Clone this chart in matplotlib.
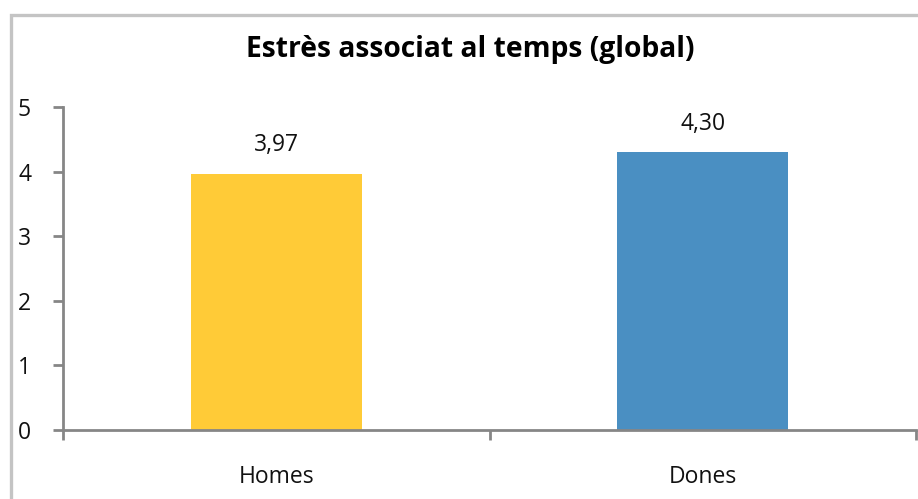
import matplotlib
matplotlib.use("Agg")
import matplotlib.pyplot as plt
from matplotlib.patches import Rectangle
from matplotlib.ticker import FixedLocator

# Stress scores by sex
categories = ["Homes", "Dones"]
values = [3.97, 4.30]
colors = ["#FFCB37", "#4A8FC2"]
title = "Estrès associat al temps (global)"

plt.rcParams["font.family"] = ["Open Sans", "DejaVu Sans"]

fig = plt.figure(figsize=(9.18, 4.99), dpi=100)
ax = fig.add_axes([63 / 918, 1 - 430 / 499, (916 - 63) / 918, (430 - 107) / 499])

x = range(len(categories))
bars = ax.bar(x, values, width=0.40, color=colors, zorder=2)

# Value labels with decimal comma
for bar, v in zip(bars, values):
    ax.annotate(f"{v:.2f}".replace(".", ","),
                xy=(bar.get_x() + bar.get_width() / 2, bar.get_height()),
                xytext=(0, 12), textcoords="offset points",
                ha="center", va="bottom", fontsize=16.5, color="#111111")

ax.set_xlim(-0.5, len(categories) - 0.5)
ax.set_ylim(0, 5)
ax.set_yticks(range(0, 6))

ax.set_xticks(list(x))
ax.set_xticklabels(categories, fontsize=16.5, color="#111111")
ax.xaxis.set_minor_locator(FixedLocator([-0.5, 0.5, 1.5]))
ax.tick_params(axis="x", which="major", length=0, pad=25)
ax.tick_params(axis="x", which="minor", length=7, width=2, color="#868686", direction="out")
ax.tick_params(axis="y", length=7, width=2, color="#868686", pad=16, labelsize=16.5,
               labelcolor="#111111")

for side in ["top", "right"]:
    ax.spines[side].set_visible(False)
for side in ["left", "bottom"]:
    ax.spines[side].set_color("#868686")
    ax.spines[side].set_linewidth(2)

fig.text(0.512, 1 - 50 / 499, title, ha="center", va="center",
         fontsize=20.3, fontweight="bold", color="#000000")

# Chart area border
fig.patches.append(Rectangle((11 / 918, -0.2), 1.2, 1.2 - 15 / 499,
                             transform=fig.transFigure, fill=False,
                             edgecolor="#C4C4C4", linewidth=2.4))

fig.savefig("out.png", dpi=100)
